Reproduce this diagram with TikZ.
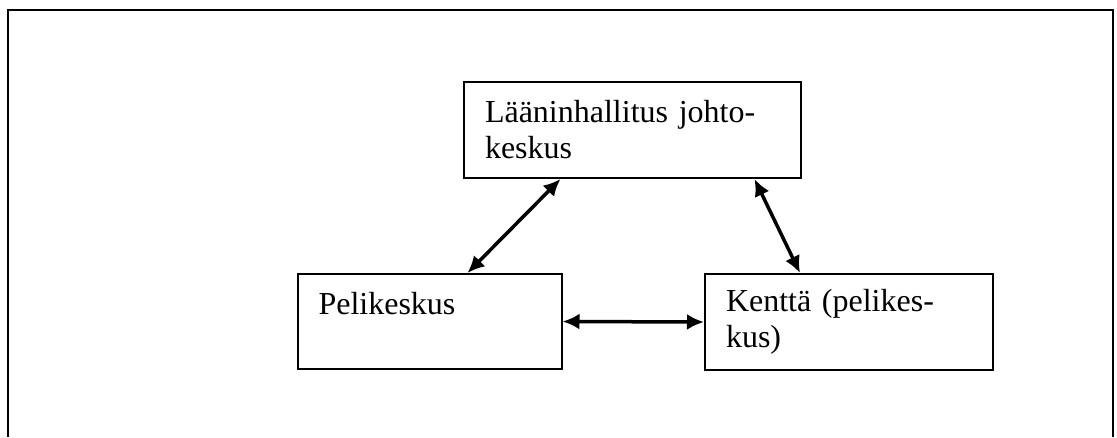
\documentclass[tikz,border=0pt]{standalone}
\usepackage{fontspec}
\setmainfont{Liberation Serif}
\usepackage{tikz}
\usetikzlibrary{shapes,arrows.meta}

\begin{document}
\begin{tikzpicture}[x=1pt,y=-1pt,
 box/.style={draw,line width=2pt,inner xsep=21pt,inner ysep=0pt,align=left,font=\fontsize{32}{36}\selectfont},
 link/.style={{Latex[length=17pt,width=16pt]}-{Latex[length=17pt,width=16pt]},line width=3.5pt}]

\useasboundingbox (0,0) rectangle (1117,437);
\draw [line width=2.5pt](8,437) -- (8,10) -- (1113,10) -- (1113,437);

 \node [box,minimum width=337pt,minimum height=96pt,text width=295pt] (lhk) at (632.5,130) {L\"a\"aninhallitus johto-\\keskus};
 \node [box,minimum width=264pt,minimum height=95pt,text width=222pt] (peli) at (429.5,321.5) {Pelikeskus\\\mbox{}};
 \node [box,minimum width=288pt,minimum height=96pt,text width=246pt] (kentta) at (849,322) {Kentt\"a (pelikes-\\kus)};

\draw [link]([xshift=-72pt]lhk.south) -- ([xshift=38pt]peli.north);
\draw [link]([xshift=122pt]lhk.south) -- ([xshift=-49pt]kentta.north);
\draw [link](peli.east) -- (kentta.west);
\end{tikzpicture}
\end{document}
